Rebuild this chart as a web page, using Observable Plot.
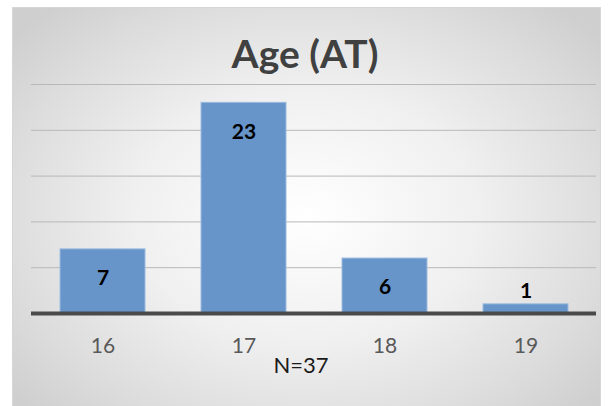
<!DOCTYPE html>
<html>
<head>
<meta charset="utf-8">
<script src="https://cdn.jsdelivr.net/npm/d3@7"></script>
<script src="https://cdn.jsdelivr.net/npm/@observablehq/plot@0.6"></script>
<style>
  html, body { margin: 0; padding: 0; background: #fff; }
  #wrap { position: relative; width: 610px; height: 406px; overflow: hidden; background: #fff; }
  #bg { position: absolute; left: 12px; top: 7px; width: 587px; height: 400px;
        background: radial-gradient(ellipse 65% 70% at 50% 52%, #ffffff 0%, #f0f0f0 45%, #dcdcdc 80%, #cfcfcf 100%);
        border-top: 1px solid #d6d6d6; border-left: 1px solid #d6d6d6; border-right: 1px solid #d6d6d6; }
  #title { position: absolute; left: 0; width: 610px; top: 30px; text-align: center;
           font-family: Lato, "Open Sans", sans-serif; font-weight: bold; font-size: 39px; color: #404040; }
  #chart { position: absolute; left: 0; top: 0; }
</style>
</head>
<body>
<div id="wrap">
  <div id="bg"></div>
  <div id="title">Age (AT)</div>
  <div id="chart"></div>
</div>
<script>
const ages = ["16", "17", "18", "19"];
const counts = [7, 23, 6, 1];
const gridValues = [5, 10, 15, 20, 25];
const caption = "N=37";

const data = ages.map((a, i) => ({age: a, count: counts[i]}));

const chart = Plot.plot({
  width: 610,
  height: 406,
  marginTop: 84,
  marginBottom: 93,
  marginLeft: 31,
  marginRight: 14,
  style: {background: "transparent", fontFamily: "Lato, 'Open Sans', sans-serif"},
  x: {domain: ages, paddingInner: 0.4, paddingOuter: 0.2, label: null},
  y: {domain: [0, 25], axis: null},
  marks: [
    Plot.ruleY(gridValues, {stroke: "#b8b8b8", strokeWidth: 1}),
    Plot.barY(data, {x: "age", y: "count", fill: "#6795c9", stroke: "#9dbbe0", strokeWidth: 1}),
    Plot.ruleY([0], {stroke: "#4a4a4a", strokeWidth: 4}),
    Plot.text(data.filter(d => d.count >= 3), {x: "age", y: "count", text: d => String(d.count), dy: 29, fontSize: 21, fontWeight: "bold", fill: "#000"}),
    Plot.text(data.filter(d => d.count < 3), {x: "age", y: "count", text: d => String(d.count), dy: -13, fontSize: 21, fontWeight: "bold", fill: "#000"}),
    Plot.axisX({tickSize: 0, tickPadding: 25, fontSize: 21, color: "#595959", label: null}),
    Plot.text([caption], {frameAnchor: "bottom", dx: -13, dy: 59, fontSize: 22, fill: "#1a1a1a"})
  ]
});
document.getElementById("chart").appendChild(chart);
</script>
</body>
</html>
